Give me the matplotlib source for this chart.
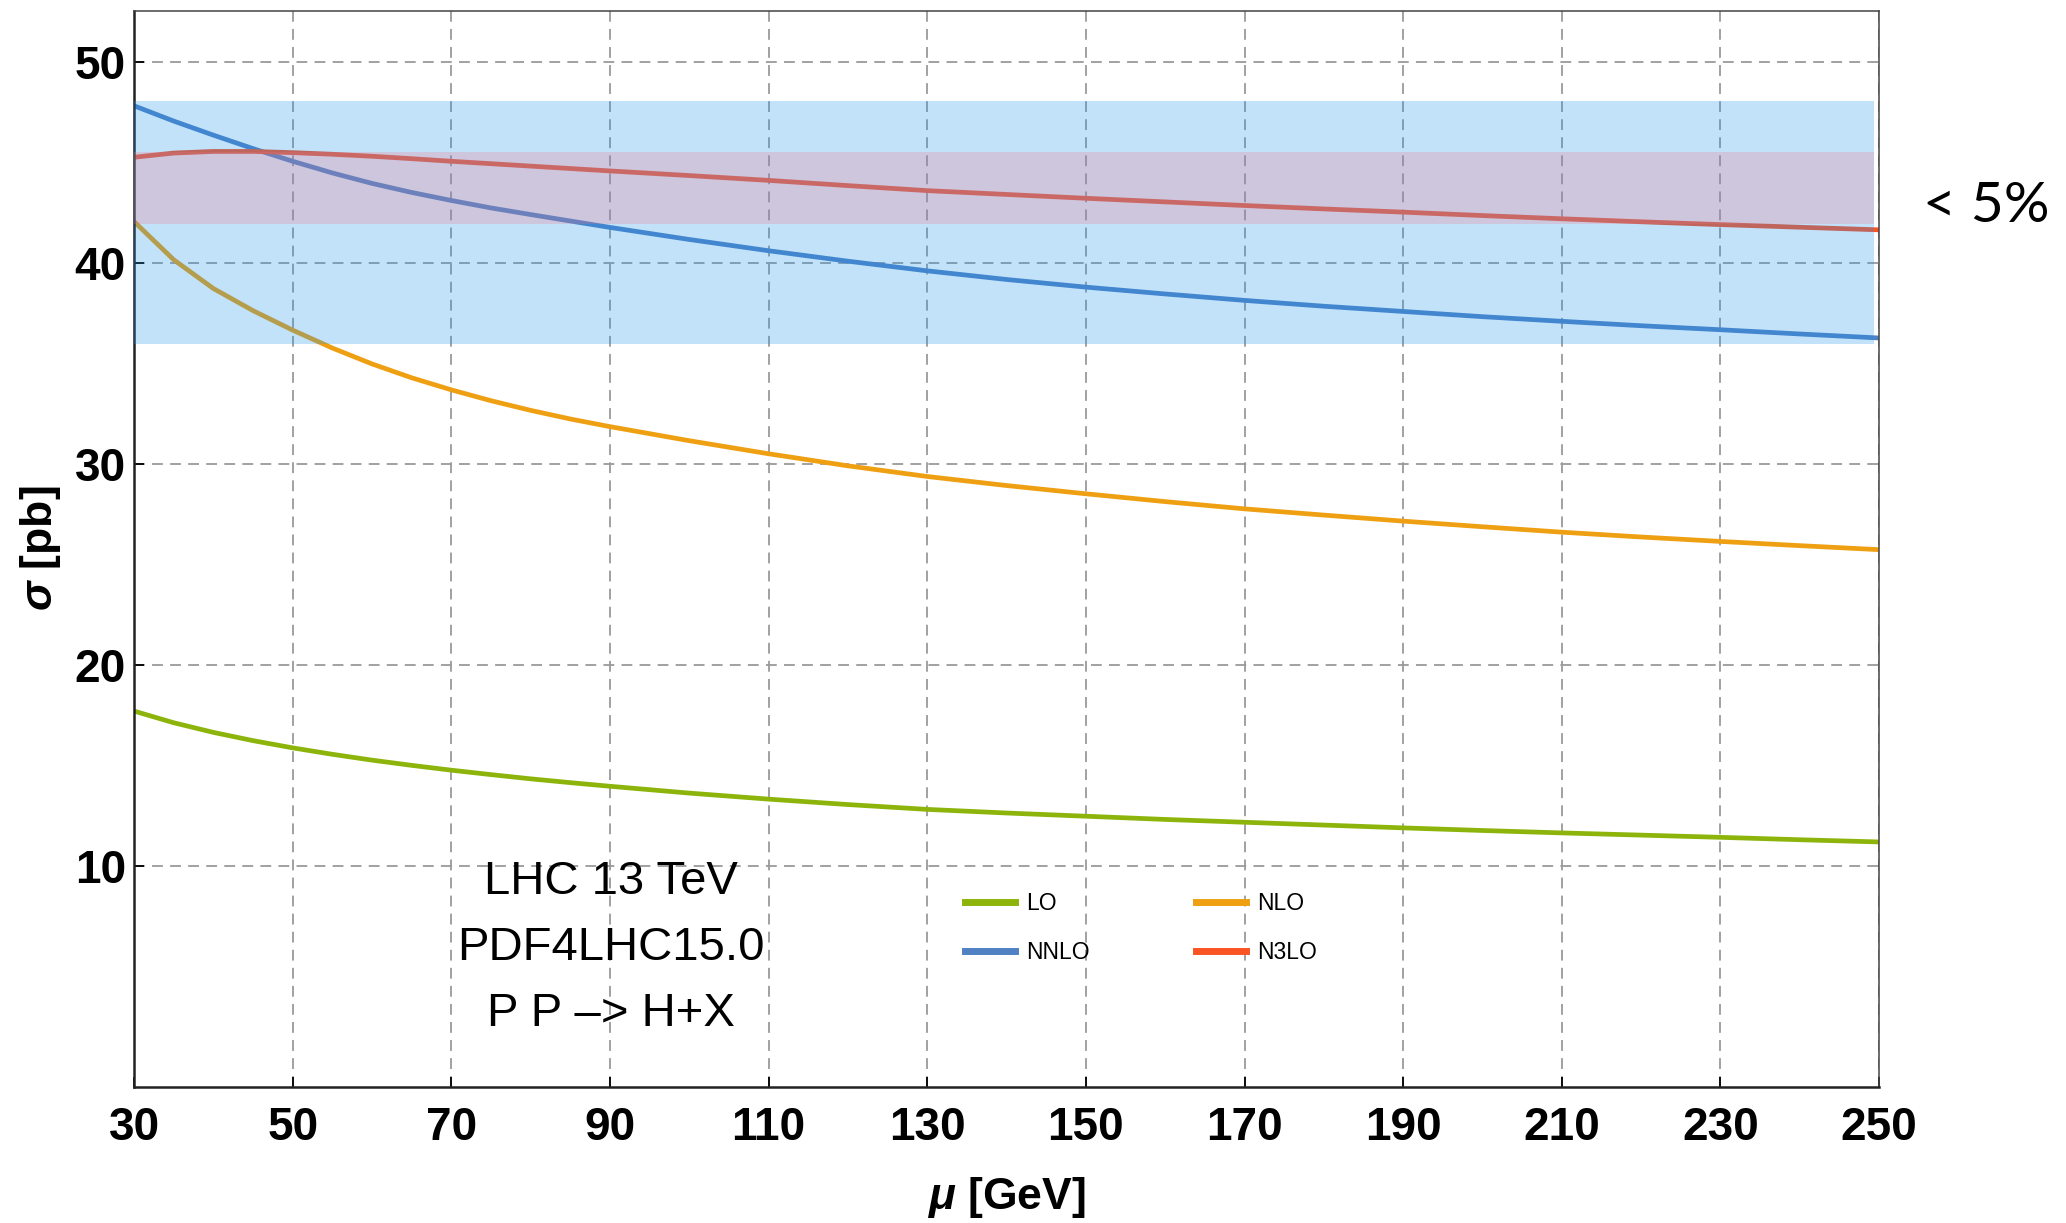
import matplotlib
matplotlib.use("Agg")
from matplotlib import pyplot as plt

# scale mu [GeV] and cross sections [pb]
mu = [30, 35, 40, 45, 50, 55, 60, 65, 70, 75, 80, 85, 90, 100, 110, 120, 130, 140,
      150, 160, 170, 180, 190, 200, 210, 220, 230, 240, 250]
lo = [17.70, 17.12, 16.64, 16.23, 15.87, 15.55, 15.26, 15.00, 14.76, 14.54, 14.33,
      14.14, 13.96, 13.62, 13.32, 13.05, 12.81, 12.63, 12.47, 12.31, 12.17, 12.03,
      11.89, 11.76, 11.64, 11.53, 11.42, 11.30, 11.19]
nlo = [42.05, 40.15, 38.72, 37.62, 36.65, 35.76, 34.97, 34.28, 33.68, 33.14, 32.66,
       32.23, 31.85, 31.15, 30.50, 29.90, 29.37, 28.92, 28.51, 28.12, 27.76, 27.45,
       27.15, 26.87, 26.60, 26.36, 26.14, 25.93, 25.73]
nnlo = [47.81, 47.05, 46.35, 45.68, 45.05, 44.47, 43.95, 43.50, 43.10, 42.73, 42.40,
        42.08, 41.76, 41.16, 40.60, 40.08, 39.60, 39.17, 38.79, 38.45, 38.13, 37.84,
        37.58, 37.32, 37.09, 36.87, 36.67, 36.46, 36.26]
n3lo = [45.25, 45.46, 45.54, 45.54, 45.48, 45.40, 45.30, 45.18, 45.05, 44.93, 44.81,
        44.69, 44.57, 44.34, 44.10, 43.84, 43.59, 43.40, 43.21, 43.03, 42.85, 42.68,
        42.52, 42.35, 42.19, 42.04, 41.90, 41.77, 41.64]

# uncertainty bands
band_x = [30, 249.4]
nnlo_band = (35.98, 48.06)
n3lo_band = (41.94, 45.50)

xticks = list(range(30, 251, 20))
yticks = [10, 20, 30, 40, 50]

plt.rcParams['font.family'] = ['Liberation Sans', 'DejaVu Sans']
plt.rcParams['mathtext.fontset'] = 'custom'
plt.rcParams['mathtext.it'] = 'Liberation Sans:italic:bold'
plt.rcParams['mathtext.rm'] = 'Liberation Sans:bold'

fig = plt.figure(figsize=(20.66, 12.23), dpi=100)
ax = fig.add_axes([0.0649, 0.1112, 0.8446, 0.8802])

l_lo, = ax.plot(mu, lo, color='#8db40b', lw=3.4, label='LO', zorder=2)
l_nlo, = ax.plot(mu, nlo, color='#eea012', lw=3.4, label='NLO', zorder=2)
l_nnlo, = ax.plot(mu, nnlo, color='#4f81c3', lw=3.4, label='NNLO', zorder=2)
l_n3lo, = ax.plot(mu, n3lo, color='#fb5424', lw=3.4, label='N3LO', zorder=2)

ax.fill_between(band_x, nnlo_band[0], nnlo_band[1], color='#1e96f0', alpha=0.27,
                lw=0, zorder=3)
ax.fill_between(band_x, n3lo_band[0], n3lo_band[1], color='#ee7387', alpha=0.25,
                lw=0, zorder=3)

ax.set_xlim(30, 250)
ax.set_ylim(-1.0, 52.55)
ax.set_xticks(xticks)
ax.set_yticks(yticks)
ax.grid(True, color='#9a9a9a', lw=1.3, ls=(0, (6, 4)))
ax.set_axisbelow(True)

ax.tick_params(axis='both', direction='in', length=7, width=1.3, labelsize=33)
ax.tick_params(axis='x', pad=14)
ax.tick_params(axis='y', pad=6)
for lab in ax.get_xticklabels() + ax.get_yticklabels():
    lab.set_fontweight('bold')

for side in ['left', 'bottom']:
    ax.spines[side].set_linewidth(1.8)
    ax.spines[side].set_color('#222222')
for side in ['top', 'right']:
    ax.spines[side].set_linewidth(1.1)
    ax.spines[side].set_color('#444444')

ax.set_xlabel(r'$\mu$ [GeV]', fontsize=32, fontweight='bold', labelpad=18)
ax.set_ylabel(r'$\sigma$ [pb]', fontsize=32, fontweight='bold', labelpad=8)

info = ['LHC 13 TeV', 'PDF4LHC15.0', 'P P –> H+X']
for txt, yy in zip(info, [0.179, 0.1177, 0.0564]):
    ax.text(0.273, yy, txt, transform=ax.transAxes, ha='center', va='baseline',
            fontsize=34, zorder=5)

leg = ax.legend([l_lo, l_nnlo, l_nlo, l_n3lo], ['LO', 'NNLO', 'NLO', 'N3LO'],
                ncol=2, loc='upper left', bbox_to_anchor=(0.4762, 0.181),
                frameon=False, fontsize=16.5, borderpad=0, borderaxespad=0,
                handlelength=2.16, handletextpad=0.5, columnspacing=4.65,
                labelspacing=1.12)
for h in leg.get_lines():
    h.set_linewidth(5)

fig.text(0.9613, 0.8315, '< 5%', family=['Lato', 'DejaVu Sans'], fontsize=41,
         ha='center', va='center')

fig.savefig('out.png', dpi=100)
